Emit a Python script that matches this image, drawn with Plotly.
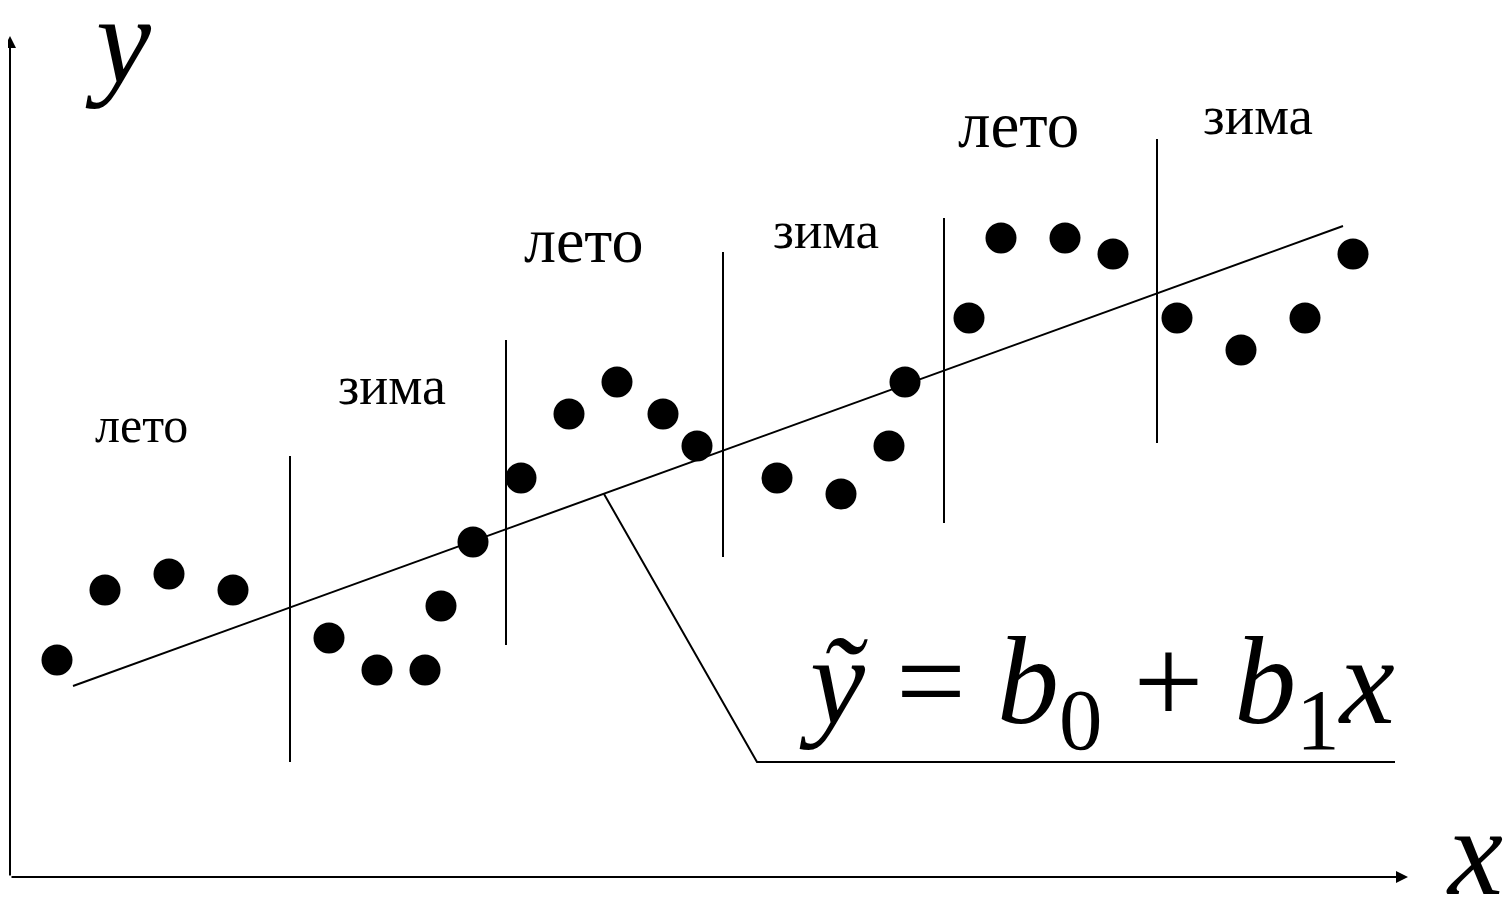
import plotly.graph_objects as go

# Observations (schematic units, screen-like coords: y grows downward)
point_x = [57, 105, 169, 233, 329, 377, 425, 441, 473, 521, 569, 617, 663, 697,
           777, 841, 889, 905, 969, 1001, 1065, 1113, 1177, 1241, 1305, 1353]
point_y = [660, 590, 574, 590, 638, 670, 670, 606, 542, 478, 414, 382, 414, 446,
           478, 494, 446, 382, 318, 238, 238, 254, 318, 350, 318, 254]

# Trend line
trend_x = [73, 1343]
trend_y = [686, 226]

# Season separators (x, top, bottom)
sep_x = [290, 506, 723, 944, 1157]
sep_top = [456, 340, 252, 218, 139]
sep_bottom = [762, 645, 557, 523, 443]

# Season labels
season_text = ["лето", "зима", "лето", "зима", "лето", "зима"]
season_x = [141, 392, 583, 826, 1018, 1258]
season_y = [425, 386, 240, 230, 125, 115]
season_size = [50, 54, 64, 53, 65, 55]

# Pointer to formula
pointer_x = [604, 757, 1395]
pointer_y = [494, 762, 762]

W, H = 1504, 889   # page body has an 8px margin
OFF = 8
fig = go.Figure()

fig.add_trace(go.Scatter(x=trend_x, y=trend_y, mode="lines",
                         line=dict(color="black", width=2), hoverinfo="skip"))
for sx, st, sb in zip(sep_x, sep_top, sep_bottom):
    fig.add_trace(go.Scatter(x=[sx, sx], y=[st, sb], mode="lines",
                             line=dict(color="black", width=2), hoverinfo="skip"))
fig.add_trace(go.Scatter(x=pointer_x, y=pointer_y, mode="lines",
                         line=dict(color="black", width=2), hoverinfo="skip"))
fig.add_trace(go.Scatter(x=point_x, y=point_y, mode="markers",
                         marker=dict(color="black", size=31, line=dict(width=0))))

# Axes with arrows
fig.add_annotation(x=10, y=36, ax=10, ay=877, xref="x", yref="y", axref="x", ayref="y",
                   showarrow=True, arrowhead=2, arrowsize=1.2, arrowwidth=2, arrowcolor="black", text="")
fig.add_annotation(x=1408, y=877, ax=10, ay=877, xref="x", yref="y", axref="x", ayref="y",
                   showarrow=True, arrowhead=2, arrowsize=1.2, arrowwidth=2, arrowcolor="black", text="")

serif = "Liberation Serif, Times New Roman, serif"
fig.add_annotation(x=118, y=40, text="<i>y</i>", showarrow=False,
                   font=dict(family=serif, size=124, color="black"))
fig.add_annotation(x=1474, y=852, text="<i>x</i>", showarrow=False,
                   font=dict(family=serif, size=124, color="black"))

for t, tx, ty, ts in zip(season_text, season_x, season_y, season_size):
    fig.add_annotation(x=tx, y=ty, text=t, showarrow=False,
                       font=dict(family=serif, size=ts, color="black"))

fig.add_annotation(x=1097, y=690,
                   text="<i>y\u0303</i> = <i>b</i><sub>0</sub> + <i>b</i><sub>1</sub><i>x</i>",
                   showarrow=False, font=dict(family=serif, size=124, color="black"))

fig.update_xaxes(range=[OFF, OFF + W], visible=False, fixedrange=True)
fig.update_yaxes(range=[OFF + H, OFF], visible=False, fixedrange=True)
fig.update_layout(width=W, height=H, margin=dict(l=0, r=0, t=0, b=0),
                  plot_bgcolor="white", paper_bgcolor="white", showlegend=False)

fig.write_html("out.html")
